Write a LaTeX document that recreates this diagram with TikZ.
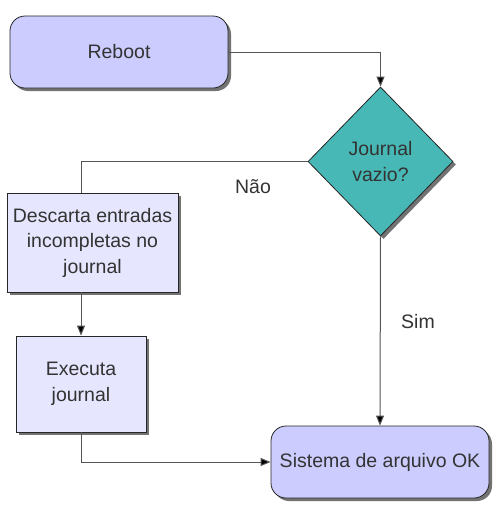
\documentclass[tikz,border=0pt]{standalone}
\usepackage{fontspec}
\setmainfont{Liberation Sans}
\usetikzlibrary{shapes.geometric,shadows,arrows.meta}
\definecolor{lav}{HTML}{CCCCFF}
\definecolor{lavlight}{HTML}{E6E6FF}
\definecolor{teal2}{HTML}{47B8B6}
\definecolor{txt}{HTML}{333333}
\definecolor{edge}{HTML}{555555}
\begin{document}
\begin{tikzpicture}[x=1pt,y=-1pt,
  every node/.style={font=\fontsize{19.5pt}{25.5pt}\selectfont, text=txt, align=center, inner sep=0pt},
  shad/.style={drop shadow={shadow xshift=3pt, shadow yshift=-3pt, fill=black!55, opacity=1}},
  term/.style={draw=black!85, line width=0.8pt, fill=lav, rounded corners=15pt, minimum width=218pt, minimum height=72pt, shad},
  proc/.style={draw=black!85, line width=0.8pt, fill=lavlight, shad},
  dec/.style={draw=black!85, line width=0.8pt, fill=teal2, diamond, minimum width=145pt, minimum height=149pt, shad},
  conn/.style={draw=edge, line width=1pt},
  arr/.style={conn, -{Triangle[length=10pt,width=8pt,fill=black]}},
  lbl/.style={font=\fontsize{19.5pt}{25.5pt}\selectfont}
]
\useasboundingbox (0,0) rectangle (502,520);
\node[term] (reboot) at (119,52) {Reboot};
\node[dec] (dia) at (380.5,161.5) {Journal\\vazio?};
\node[proc, minimum width=171pt, minimum height=99pt] (desc) at (92.5,242.5) {Descarta entradas\\incompletas no\\journal};
\node[proc, minimum width=130pt, minimum height=96pt] (exec) at (81,384) {Executa\\journal};
\node[term] (ok) at (380,462) {Sistema de arquivo OK};
\node[lbl] (nao) at (253,187) {Não};
\node[lbl] (sim) at (418,322) {Sim};
\draw[arr] (reboot.east) -| (dia.north);
\draw[conn] (dia.west) -| (exec.north |- desc.north);
\draw[arr] (exec.north |- desc.south) -- (exec.north);
\draw[arr] (exec.south) |- (ok.west);
\draw[arr] (dia.south) -- (ok.north);
\end{tikzpicture}
\end{document}
